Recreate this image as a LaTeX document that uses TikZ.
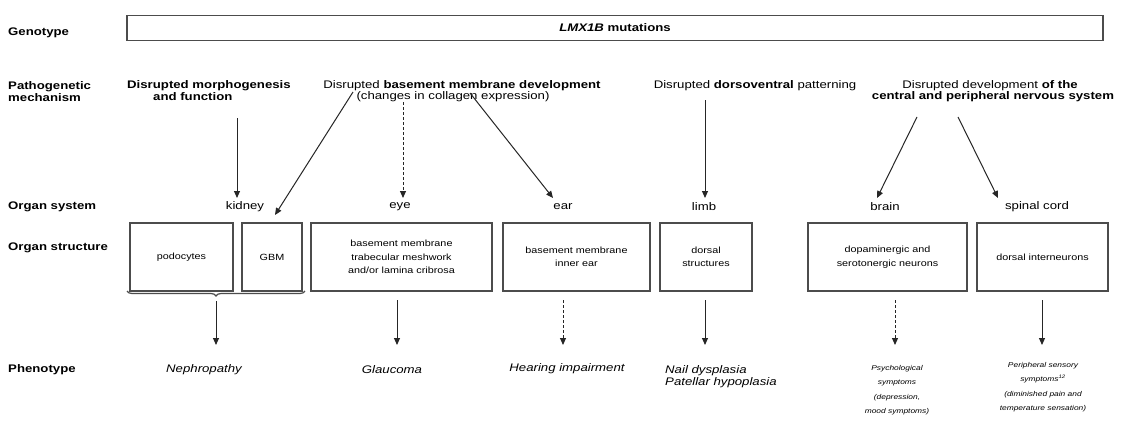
\documentclass[tikz,border=0pt]{standalone}
\usepackage{fontspec}
\setmainfont{Liberation Sans}[FakeStretch=1.2]
\usetikzlibrary{arrows.meta,decorations.pathreplacing}
\newcommand\fontL{\fontsize{11}{12}\selectfont}
\newcommand\fontB{\fontsize{9}{13.5}\selectfont}
\newcommand\fontS{\fontsize{7}{14.5}\selectfont}
\begin{document}
\begin{tikzpicture}[x=1pt,y=-1pt,
  rowlab/.style={anchor=west, inner sep=0, font=\fontL\bfseries, align=left},
  txt/.style={inner sep=0, font=\fontL},
  org/.style={inner sep=0, font=\fontL},
  sbox/.style={draw=black!70, line width=1.3pt, inner sep=2pt, font=\fontB, align=center, minimum height=68pt},
  pheno/.style={inner sep=0, font=\fontL\itshape, align=center},
  phs/.style={inner sep=0, font=\fontS\itshape, align=center},
  arr/.style={-{Triangle[length=7pt,width=6pt]}, line width=1pt, draw=black!85},
  darr/.style={arr, dash pattern=on 3pt off 2pt}]
\useasboundingbox (0,0) rectangle (1122,421);
\fill[white] (0,0) rectangle (1122,421);
% row labels
\node[rowlab] (lgen) at (8,33) {Genotype};
\node[rowlab] (lpath) at (8,92) {Pathogenetic\\mechanism};
\node[rowlab] (lsys) at (8,207) {Organ system};
\node[rowlab] (lstr) at (8,248) {Organ structure};
\node[rowlab] (lphe) at (8,370) {Phenotype};
% genotype
\node[draw=black!70, line width=1.8pt, minimum width=976pt, minimum height=25pt, inner sep=0, font=\fontL\bfseries] (gbox) at (615,28) {\textit{LMX1B} mutations};
% mechanisms
\node[txt, anchor=west] (m1a) at (127,86) {\textbf{Disrupted morphogenesis}};
\node[txt, anchor=west] (m1b) at (153,97) {\textbf{and function}};
\node[txt] (m2a) at (462,86) {Disrupted \textbf{basement membrane development}};
\node[txt] (m2b) at (453,97) {(changes in collagen expression)};
\node[txt] (m3) at (755,86) {Disrupted \textbf{dorsoventral} patterning};
\node[txt] (m4a) at (990,86) {Disrupted development \textbf{of the}};
\node[txt] (m4b) at (993,97) {\textbf{central and peripheral nervous system}};
% organ systems
\node[org] (kid) at (245,207) {kidney};
\node[org] (eye) at (400,207) {eye};
\node[org] (ear) at (563,207) {ear};
\node[org] (limb) at (704,207) {limb};
\node[org] (brain) at (885,207) {brain};
\node[org] (spin) at (1037,207) {spinal cord};
% structures
\node[sbox, minimum width=103pt] (podo) at (181.5,257) {podocytes};
\node[sbox, minimum width=60pt] (gbm) at (272,257) {GBM};
\node[sbox, minimum width=181pt] (seye) at (401.5,257) {basement membrane\\trabecular meshwork\\and/or lamina cribrosa};
\node[sbox, minimum width=147pt] (sear) at (576.5,257) {basement membrane\\inner ear};
\node[sbox, minimum width=92pt] (slimb) at (706,257) {dorsal\\structures};
\node[sbox, minimum width=159pt] (sbrain) at (887.5,257) {dopaminergic and\\serotonergic neurons};
\node[sbox, minimum width=131pt] (sspin) at (1042.5,257) {dorsal interneurons};
% phenotypes
\node[pheno] (pkid) at (204,370) {Nephropathy};
\node[pheno] (peye) at (392,370) {Glaucoma};
\node[pheno] (pear) at (567,369) {Hearing impairment};
\node[pheno, anchor=west, align=left] (plimb) at (665,377) {Nail dysplasia\\Patellar hypoplasia};
\node[phs] (pbrain) at (897,390) {Psychological\\symptoms\\(depression,\\mood symptoms)};
\node[phs] (pspin) at (1043,387) {Peripheral sensory\\symptoms\textsuperscript{12}\\(diminished pain and\\temperature sensation)};
% connector coordinates
\coordinate (a1s) at (237,118); \coordinate (a1e) at (237,198);
\coordinate (a2s) at (353,92);  \coordinate (a2e) at (275,215);
\coordinate (a3s) at (403,102); \coordinate (a3e) at (403,198);
\coordinate (a4s) at (470,93);  \coordinate (a4e) at (553,198);
\coordinate (a5s) at (705,100); \coordinate (a5e) at (705,198);
\coordinate (a6s) at (917,117); \coordinate (a6e) at (877,198);
\coordinate (a7s) at (958,117); \coordinate (a7e) at (998,198);
\draw[arr] (a1s) -- (a1e);
\draw[arr] (a2s) -- (a2e);
\draw[darr] (a3s) -- (a3e);
\draw[arr] (a4s) -- (a4e);
\draw[arr] (a5s) -- (a5e);
\draw[arr] (a6s) -- (a6e);
\draw[arr] (a7s) -- (a7e);
% kidney brace
\coordinate (bl) at (127,291); \coordinate (br) at (305,291);
\draw[line width=1.2pt, draw=black!70, decorate, decoration={brace, mirror, amplitude=5pt}] (bl) -- (br);
% phenotype arrows
\coordinate (p1s) at (216,301); \coordinate (p1e) at (216,345);
\coordinate (p2s) at (397,300); \coordinate (p2e) at (397,345);
\coordinate (p3s) at (563,300); \coordinate (p3e) at (563,345);
\coordinate (p4s) at (705,300); \coordinate (p4e) at (705,345);
\coordinate (p5s) at (895,300); \coordinate (p5e) at (895,345);
\coordinate (p6s) at (1042,300); \coordinate (p6e) at (1042,345);
\draw[arr] (p1s) -- (p1e);
\draw[arr] (p2s) -- (p2e);
\draw[darr] (p3s) -- (p3e);
\draw[arr] (p4s) -- (p4e);
\draw[darr] (p5s) -- (p5e);
\draw[arr] (p6s) -- (p6e);
\end{tikzpicture}
\end{document}
